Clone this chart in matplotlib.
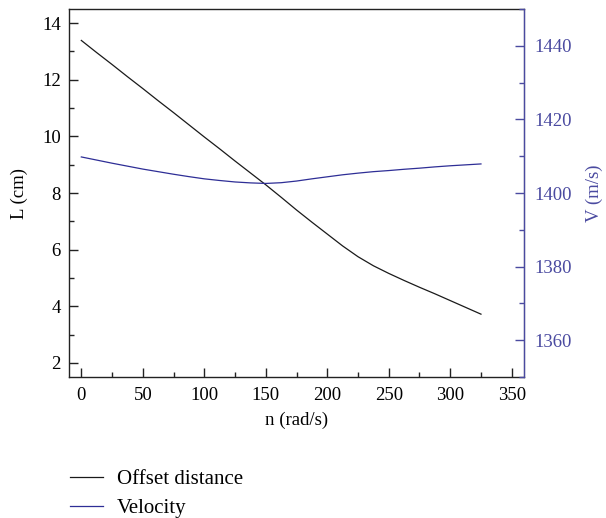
import numpy as np
import matplotlib.pyplot as plt
from matplotlib.ticker import MultipleLocator

plt.rcParams['font.family'] = ['Liberation Serif', 'DejaVu Serif']
plt.rcParams['font.size'] = 13.5

# rotational speed (rad/s)
n = [0, 12.5, 25, 37.5, 50, 62.5, 75, 87.5, 100, 112.5, 125, 137.5, 150, 162.5,
     175, 187.5, 200, 212.5, 225, 237.5, 250, 262.5, 275, 287.5, 300, 312.5, 325]
# offset distance L (cm)
offset = [13.39, 12.96, 12.54, 12.11, 11.69, 11.26, 10.84, 10.41, 9.98, 9.56, 9.13, 8.71,
          8.29, 7.85, 7.40, 6.97, 6.55, 6.13, 5.75, 5.43, 5.16, 4.91, 4.67, 4.44, 4.20,
          3.96, 3.72]
# velocity V (m/s)
velocity = [1409.8, 1408.95, 1408.1, 1407.3, 1406.5, 1405.8, 1405.1, 1404.45, 1403.85,
            1403.4, 1403.0, 1402.75, 1402.6, 1402.8, 1403.25, 1403.85, 1404.4, 1404.95,
            1405.4, 1405.8, 1406.1, 1406.45, 1406.75, 1407.1, 1407.4, 1407.65, 1407.9]

BLUE_LINE = '#2e2e96'
BLUE_AXIS = '#4a4aa0'

fig = plt.figure(figsize=(6.06, 5.18), dpi=100)
ax = fig.add_axes([0.1139, 0.2722, 0.7508, 0.7104])
ax2 = ax.twinx()

l1, = ax.plot(n, offset, color='#1a1a1a', lw=0.9, label='Offset distance')
l2, = ax2.plot(n, velocity, color=BLUE_LINE, lw=0.9, label='Velocity')

ax.set_xlim(-10, 360)
ax.set_ylim(1.5, 14.5)
ax2.set_ylim(1350, 1450)

ax.xaxis.set_major_locator(MultipleLocator(50))
ax.xaxis.set_minor_locator(MultipleLocator(25))
ax.yaxis.set_major_locator(MultipleLocator(2))
ax.yaxis.set_minor_locator(MultipleLocator(1))
ax2.yaxis.set_major_locator(MultipleLocator(20))
ax2.yaxis.set_minor_locator(MultipleLocator(10))

ax.tick_params(which='both', direction='in', top=False, right=False, width=1.0, color='#222222')
ax.tick_params(which='major', length=6.5)
ax.tick_params(which='minor', length=3.5)
ax.tick_params(axis='x', pad=7)
ax.tick_params(axis='y', pad=6)
ax2.tick_params(which='both', direction='in', width=1.0, color=BLUE_AXIS, labelcolor=BLUE_AXIS, pad=7.5)
ax2.tick_params(which='major', length=6.5)
ax2.tick_params(which='minor', length=3.5)

for s in ['left', 'bottom', 'top']:
    ax.spines[s].set_linewidth(1.0)
    ax.spines[s].set_color('#222222')
ax2.spines['right'].set_color(BLUE_AXIS)
ax2.spines['right'].set_linewidth(1.0)
ax2.spines['left'].set_visible(False)
ax2.spines['top'].set_visible(False)
ax2.spines['bottom'].set_visible(False)

ax.set_xlabel('n (rad/s)', labelpad=6)
ax.set_ylabel('L (cm)', labelpad=10)
ax2.set_ylabel('V (m/s)', color=BLUE_AXIS, labelpad=10)

fig.legend(handles=[l1, l2], loc='upper left', bbox_to_anchor=(0.1155, 0.094),
           frameon=False, borderaxespad=0, borderpad=0, handlelength=1.6,
           handletextpad=0.65, labelspacing=0.45, fontsize=15)

fig.savefig('out.png', dpi=100)
